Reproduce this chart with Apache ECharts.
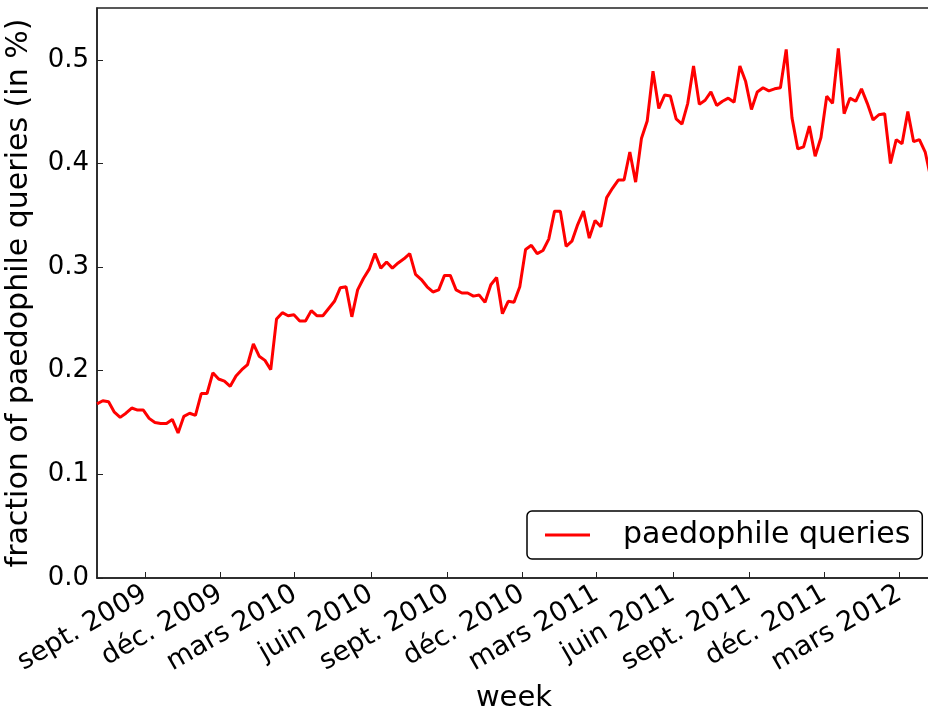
<!DOCTYPE html>
<html>
<head>
<meta charset="utf-8">
<script src="https://cdn.jsdelivr.net/npm/echarts@6/dist/echarts.min.js"></script>
<style>
html,body{margin:0;padding:0;background:#fff;}
#chart{width:928px;height:713px;}
</style>
</head>
<body>
<div id="chart"></div>
<script>
// First week (Sunday) of the weekly series, and the series values (fraction in %)
var firstWeek = '2009-07-05';
var seriesName = 'paedophile queries';
var values = [
  0.168, 0.171, 0.170, 0.160, 0.155, 0.159, 0.164, 0.162, 0.162, 0.154,
  0.150, 0.149, 0.149, 0.153, 0.140, 0.156, 0.159, 0.157, 0.178, 0.178,
  0.198, 0.192, 0.190, 0.185, 0.195, 0.201, 0.206, 0.226, 0.214, 0.210,
  0.201, 0.250, 0.256, 0.253, 0.254, 0.248, 0.248, 0.258, 0.253, 0.253,
  0.260, 0.267, 0.280, 0.281, 0.252, 0.278, 0.289, 0.298, 0.313, 0.299,
  0.305, 0.299, 0.304, 0.308, 0.313, 0.293, 0.288, 0.281, 0.276, 0.278,
  0.292, 0.292, 0.278, 0.275, 0.275, 0.272, 0.273, 0.266, 0.283, 0.290,
  0.255, 0.267, 0.266, 0.281, 0.317, 0.321, 0.313, 0.316, 0.327, 0.354,
  0.354, 0.320, 0.325, 0.341, 0.354, 0.328, 0.345, 0.339, 0.367, 0.376,
  0.384, 0.384, 0.411, 0.382, 0.424, 0.441, 0.489, 0.453, 0.466, 0.465,
  0.443, 0.438, 0.458, 0.494, 0.457, 0.461, 0.469, 0.456, 0.460, 0.463,
  0.459, 0.494, 0.479, 0.452, 0.469, 0.473, 0.470, 0.472, 0.473, 0.510,
  0.444, 0.414, 0.416, 0.436, 0.407, 0.425, 0.465, 0.458, 0.511, 0.448,
  0.463, 0.460, 0.472, 0.458, 0.442, 0.447, 0.448, 0.400, 0.423, 0.419,
  0.450, 0.421, 0.423, 0.411, 0.385
];
// X tick positions and labels
var tickDates = ['2009-09-01','2009-12-01','2010-03-01','2010-06-01','2010-09-01','2010-12-01',
                 '2011-03-01','2011-06-01','2011-09-01','2011-12-01','2012-03-01'];
var tickLabels = ['sept. 2009','déc. 2009','mars 2010','juin 2010','sept. 2010','déc. 2010',
                  'mars 2011','juin 2011','sept. 2011','déc. 2011','mars 2012'];
var yTicks = [0.0, 0.1, 0.2, 0.3, 0.4, 0.5];

function ts(s){ var p = s.split('-'); return Date.UTC(+p[0], +p[1]-1, +p[2]); }
var DAY = 86400000;
var t0 = ts(firstWeek);
var points = values.map(function(v, i){ return [t0 + i*7*DAY, v]; });
var tickTs = tickDates.map(ts);
var xMin = points[0][0], xMax = points[points.length-1][0];

var FONT = 'DejaVu Sans';
var chart = echarts.init(document.getElementById('chart'), null, {renderer:'canvas'});
chart.setOption({
  animation: false,
  backgroundColor: '#fff',
  textStyle: {fontFamily: FONT},
  grid: {left: 97, right: -3, top: 8, bottom: 135, containLabel: false, outerBoundsMode: 'none',
         show: true, borderColor: '#222', borderWidth: 1.5, backgroundColor: 'transparent'},
  legend: {
    left: 527, top: 511,
    data: [seriesName],
    icon: 'rect', itemWidth: 45, itemHeight: 3,
    padding: [9, 12, 9, 18],
    borderColor: '#000', borderWidth: 1.5, borderRadius: 5,
    backgroundColor: '#fff',
    textStyle: {fontFamily: FONT, fontSize: 30, color: '#000', padding: [0, 0, 0, 28]}
  },
  xAxis: {
    type: 'value', min: xMin, max: xMax,
    name: 'week', nameLocation: 'middle', nameGap: 106,
    nameTextStyle: {fontFamily: FONT, fontSize: 29, color: '#000'},
    axisLine: {show: true, lineStyle: {color: '#222', width: 1.5}},
    axisTick: {show: true, inside: true, length: 6, customValues: tickTs, lineStyle: {color: '#222', width: 1}},
    axisLabel: {
      customValues: tickTs, rotate: 30, margin: 14,
      fontFamily: FONT, fontSize: 27, color: '#000',
      formatter: function(v){ var i = tickTs.indexOf(v); return i >= 0 ? tickLabels[i] : ''; }
    },
    splitLine: {show: false}
  },
  yAxis: {
    type: 'value', min: 0, max: 0.55,
    name: 'fraction of paedophile queries (in %)', nameLocation: 'middle', nameGap: 63,
    nameTextStyle: {fontFamily: FONT, fontSize: 30, color: '#000'},
    axisLine: {show: true, lineStyle: {color: '#222', width: 1.5}},
    axisTick: {show: true, inside: true, length: 6, customValues: yTicks, lineStyle: {color: '#222', width: 1}},
    axisLabel: {
      customValues: yTicks, margin: 8,
      fontFamily: FONT, fontSize: 26, color: '#000',
      formatter: function(v){ return v.toFixed(1); }
    },
    splitLine: {show: false}
  },
  series: [{
    name: seriesName, type: 'line', data: points,
    showSymbol: false, symbol: 'none',
    lineStyle: {color: '#ff0000', width: 3},
    itemStyle: {color: '#ff0000'},
    clip: true
  }]
});
</script>
</body>
</html>
